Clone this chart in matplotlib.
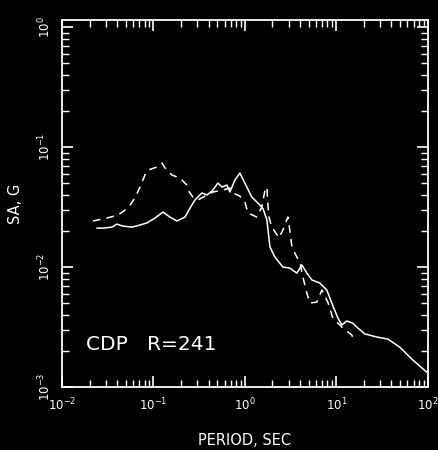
import matplotlib.pyplot as plt
import numpy as np

# response spectra (period in sec, SA in g)
period_solid = [0.0242, 0.0281, 0.0352, 0.0399, 0.0453, 0.0582, 0.0712, 0.0849, 0.1038, 0.127,
                0.151, 0.181, 0.221, 0.251, 0.284, 0.339, 0.385, 0.447, 0.507, 0.561,
                0.636, 0.686, 0.778, 0.881, 1.05, 1.19, 1.39, 1.57, 1.74, 1.88,
                2.13, 2.60, 3.10, 3.70, 4.20, 4.76, 5.40, 6.60, 7.87, 8.93,
                10.4, 11.5, 13.0, 15.1, 17.2, 20.5, 27.7, 36.6, 49.4, 68.6, 97.5]
sa_solid = [0.0211, 0.0211, 0.0215, 0.0228, 0.0220, 0.0215, 0.0224, 0.0233, 0.0256, 0.0287,
            0.0261, 0.0242, 0.0261, 0.0310, 0.0362, 0.0414, 0.0398, 0.0438, 0.0501, 0.0464,
            0.0482, 0.0422, 0.0531, 0.0607, 0.0464, 0.0383, 0.0341, 0.0310, 0.0247, 0.0147,
            0.0121, 0.0100, 0.0098, 0.0089, 0.0104, 0.0089, 0.0078, 0.00736, 0.00643, 0.00501,
            0.00376, 0.00329, 0.00355, 0.00341, 0.0031, 0.00277, 0.00261, 0.00251, 0.00215, 0.00168, 0.00133]

period_dash = [0.0218, 0.0247, 0.031, 0.0409, 0.0526, 0.0628, 0.0712, 0.0807, 0.0871, 0.109,
               0.124, 0.134, 0.159, 0.195, 0.232, 0.238, 0.270, 0.306, 0.366, 0.447,
               0.575, 0.686, 0.740, 0.881, 1.0, 1.08, 1.35, 1.53, 1.66, 1.74,
               1.78, 1.83, 1.97, 2.36, 2.60, 2.95, 3.10, 3.27, 3.70, 3.99,
               4.31, 4.76, 5.13, 6.12, 6.95, 8.07, 9.16, 11.8, 14.8, 15.1]
sa_dash = [0.0242, 0.0247, 0.0256, 0.0271, 0.0310, 0.0376, 0.0464, 0.0585, 0.0643, 0.0681,
           0.0736, 0.0668, 0.0585, 0.0552, 0.0482, 0.0438, 0.0383, 0.0362, 0.0390, 0.0422,
           0.0438, 0.0455, 0.0414, 0.0390, 0.0348, 0.0282, 0.0261, 0.0316, 0.0438, 0.0464,
           0.0341, 0.0261, 0.0215, 0.0175, 0.0203, 0.0261, 0.0203, 0.0147, 0.0121, 0.0110,
           0.00826, 0.00607, 0.00501, 0.0051, 0.00643, 0.0051, 0.00376, 0.0031, 0.00271, 0.00256]

label = "CDP   R=241"

fg = "white"
plt.rcParams["font.family"] = "DejaVu Sans"

fig = plt.figure(figsize=(4.38, 4.5), dpi=100, facecolor="black")
ax = fig.add_axes([0.1416, 0.14, 0.835, 0.816], facecolor="black")

ax.plot(period_solid, sa_solid, color=fg, lw=1.1)
ax.plot(period_dash, sa_dash, color=fg, lw=1.1, dashes=(5, 4))

ax.set_xscale("log")
ax.set_yscale("log")
ax.set_xlim(1e-2, 1e2)
ax.set_ylim(1e-3, 1.15)

for s in ax.spines.values():
    s.set_color(fg)
    s.set_linewidth(1.3)

ax.tick_params(which="both", direction="in", colors=fg, top=True, right=True)
ax.tick_params(which="major", length=8, width=1.2, labelsize=8.5)
ax.tick_params(which="minor", length=5, width=1.0)
ax.tick_params(axis="y", which="major", pad=6)
ax.tick_params(axis="x", which="major", pad=7)
plt.setp(ax.get_yticklabels(), rotation=90, va="center")

ax.set_xlabel("PERIOD, SEC", color=fg, fontsize=10.5, labelpad=14)
ax.set_ylabel("SA, G", color=fg, fontsize=10.5, labelpad=10)

ax.text(0.065, 0.1, label, transform=ax.transAxes, color=fg, fontsize=14.5)

fig.savefig("out.png", dpi=100, facecolor="black")
